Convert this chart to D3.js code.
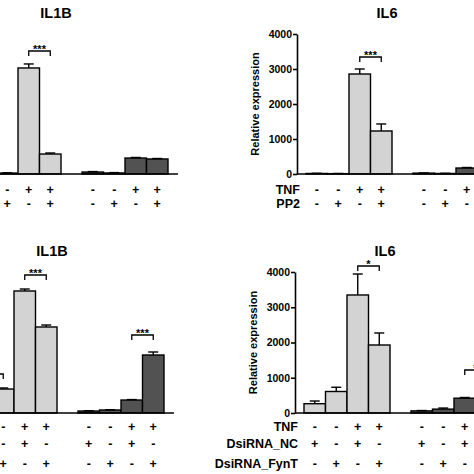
<!DOCTYPE html>
<html>
<head>
<meta charset="utf-8">
<script src="https://cdn.jsdelivr.net/npm/d3@7"></script>
<style>
html,body{margin:0;padding:0;background:#fff;}
svg{display:block;}
text{font-family:"Liberation Sans",Arial,Helvetica,sans-serif;font-weight:bold;fill:#000;}
</style>
</head>
<body>
<svg id="chart" width="474" height="474"></svg>
<script>
// ---------- data ----------
const groups = ["light", "dark"];
const conditions = [0, 1, 2, 3];

const ppRowLabels = ["TNF", "PP2"];
const ppSigns = [["-", "-", "+", "+"], ["-", "+", "-", "+"]];
const siRowLabels = ["TNF", "DsiRNA_NC", "DsiRNA_FynT"];
const siSigns = [["-", "-", "+", "+"], ["+", "-", "+", "-"], ["-", "+", "-", "+"]];

const il1bTicks = [0, 50, 100, 150];
const il6Ticks = [0, 1000, 2000, 3000, 4000];

// IL1B, PP2 experiment (top left)
const il1bPP2Light = [1.0, 1.0, 113.6, 21.4];
const il1bPP2LightErr = [0.3, 0.3, 4.3, 1.1];
const il1bPP2Dark = [2.1, 1.1, 17.1, 16.1];
const il1bPP2DarkErr = [0.5, 0.4, 0.6, 0.5];
const il1bPP2Sig = [{group: "light", a: 2, b: 3, level: 131.8, label: "***"}];

// IL6, PP2 experiment (top right)
const il6PP2Light = [15, 10, 2857, 1229];
const il6PP2LightErr = [5, 5, 143, 200];
const il6PP2Dark = [25, 15, 171, 160];
const il6PP2DarkErr = [5, 5, 15, 15];
const il6PP2Sig = [{group: "light", a: 2, b: 3, level: 3343, label: "***"}];

// IL1B, siRNA experiment (bottom left)
const il1bSiLight = [10, 25.5, 129.8, 91.5];
const il1bSiLightErr = [2, 1.1, 2.1, 2.1];
const il1bSiDark = [2.1, 3.2, 13.8, 61.7];
const il1bSiDarkErr = [0.3, 0.3, 0.5, 3.2];
const il1bSiSig = [
  {group: "light", a: 0, b: 1, level: 41.5, label: "**"},
  {group: "light", a: 2, b: 3, level: 146.8, label: "***"},
  {group: "dark", a: 2, b: 3, level: 83, label: "***"}
];

// IL6, siRNA experiment (bottom right)
const il6SiLight = [264, 610, 3348, 1929];
const il6SiLightErr = [76, 120, 595, 341];
const il6SiDark = [60, 110, 420, 850];
const il6SiDarkErr = [10, 30, 20, 80];
const il6SiSig = [
  {group: "light", a: 2, b: 3, level: 4170, label: "*"},
  {group: "dark", a: 2, b: 3, level: 1220, label: "*"}
];

// ---------- layout ----------
const colors = {light: "#d3d3d3", dark: "#525252"};
const panels = [
  {title: "IL1B", x0: -34, base: 174, top: 34, ymax: 150, ticks: il1bTicks,
   light: il1bPP2Light, lightErr: il1bPP2LightErr, dark: il1bPP2Dark, darkErr: il1bPP2DarkErr,
   sig: il1bPP2Sig, rowLabels: ppRowLabels, signs: ppSigns, rowY: [16, 30]},
  {title: "IL6", x0: 297, base: 174, top: 34, ymax: 4000, ticks: il6Ticks,
   light: il6PP2Light, lightErr: il6PP2LightErr, dark: il6PP2Dark, darkErr: il6PP2DarkErr,
   sig: il6PP2Sig, rowLabels: ppRowLabels, signs: ppSigns, rowY: [16, 30]},
  {title: "IL1B", x0: -38, base: 413, top: 272, ymax: 150, ticks: il1bTicks,
   light: il1bSiLight, lightErr: il1bSiLightErr, dark: il1bSiDark, darkErr: il1bSiDarkErr,
   sig: il1bSiSig, rowLabels: siRowLabels, signs: siSigns, rowY: [14, 31, 51]},
  {title: "IL6", x0: 295, base: 413, top: 272, ymax: 4000, ticks: il6Ticks,
   light: il6SiLight, lightErr: il6SiLightErr, dark: il6SiDark, darkErr: il6SiDarkErr,
   sig: il6SiSig, rowLabels: siRowLabels, signs: siSigns, rowY: [14, 31, 51]}
];

const svg = d3.select("#chart");
svg.append("rect").attr("width", 474).attr("height", 474).attr("fill", "#fff");

panels.forEach(p => {
  const g = svg.append("g");
  const y = d3.scaleLinear().domain([0, p.ymax]).range([p.base, p.top]);
  const x = d3.scaleBand().domain(groups)
    .range([p.x0 + 9, p.x0 + 9 + 193]).paddingInner(21 / 107).paddingOuter(0);
  const xi = d3.scaleBand().domain(conditions).range([0, x.bandwidth()]).padding(0);

  // title
  g.append("text").attr("x", p.x0 + 90).attr("y", p.top - 16)
    .attr("text-anchor", "middle").style("font-size", "14.5px").text(p.title);

  // y axis
  const ax = g.append("g").attr("transform", `translate(${p.x0},0)`)
    .call(d3.axisLeft(y).tickValues(p.ticks).tickFormat(d3.format("d"))
      .tickSize(4).tickSizeOuter(0).tickPadding(1));
  ax.select(".domain").attr("stroke", "#000").attr("stroke-width", 1.6);
  ax.selectAll(".tick line").attr("stroke", "#000").attr("stroke-width", 1.6);
  ax.selectAll(".tick text").style("font-size", "10.5px")
    .style("font-family", '"Liberation Sans",Arial,sans-serif').style("font-weight", "bold").attr("fill", "#000");

  // y label
  g.append("text")
    .attr("transform", `translate(${p.x0 - 38},${(p.base + p.top) / 2}) rotate(-90)`)
    .attr("text-anchor", "middle").style("font-size", "11px").text("Relative expression");

  // bars
  groups.forEach(grp => {
    const vals = p[grp], errs = p[grp + "Err"];
    const gg = g.append("g");
    gg.selectAll("rect").data(conditions).join("rect")
      .attr("x", i => x(grp) + xi(i))
      .attr("y", i => y(vals[i]))
      .attr("width", xi.bandwidth())
      .attr("height", i => y(0) - y(vals[i]))
      .attr("fill", colors[grp]).attr("stroke", "#000").attr("stroke-width", 1.4);
    conditions.forEach(i => {
      const cx = x(grp) + xi(i) + xi.bandwidth() / 2;
      gg.append("line").attr("x1", cx).attr("x2", cx)
        .attr("y1", y(vals[i])).attr("y2", y(vals[i] + errs[i]))
        .attr("stroke", "#000").attr("stroke-width", 1.4);
      gg.append("line").attr("x1", cx - 5).attr("x2", cx + 5)
        .attr("y1", y(vals[i] + errs[i])).attr("y2", y(vals[i] + errs[i]))
        .attr("stroke", "#000").attr("stroke-width", 1.4);
    });
  });

  // x baseline
  g.append("line").attr("x1", p.x0).attr("x2", p.x0 + 212)
    .attr("y1", p.base).attr("y2", p.base).attr("stroke", "#000").attr("stroke-width", 1.6);

  // significance brackets
  p.sig.forEach(s => {
    const xa = x(s.group) + xi(s.a) + xi.bandwidth() / 2;
    const xb = x(s.group) + xi(s.b) + xi.bandwidth() / 2;
    const yy = y(s.level);
    g.append("path").attr("d", `M${xa},${yy + 5}V${yy}H${xb}V${yy + 5}`)
      .attr("fill", "none").attr("stroke", "#000").attr("stroke-width", 1.3);
    g.append("text").attr("x", (xa + xb) / 2).attr("y", yy + 2)
      .attr("text-anchor", "middle").style("font-size", "11px").text(s.label);
  });

  // condition rows
  p.rowLabels.forEach((lab, r) => {
    const yy = p.base + p.rowY[r] + 4;
    g.append("text").attr("x", p.x0 + 3).attr("y", yy)
      .attr("text-anchor", "end").style("font-size", "12.5px").text(lab);
    groups.forEach(grp => {
      conditions.forEach(i => {
        g.append("text").attr("x", x(grp) + xi(i) + xi.bandwidth() / 2).attr("y", yy)
          .attr("text-anchor", "middle").style("font-size", "12.5px").text(p.signs[r][i]);
      });
    });
  });
});

// drop texts that lie entirely outside the visible 474x474 area (cropped in the reference)
svg.selectAll("text").each(function () {
  const b = this.getBoundingClientRect();
  if (b.right <= 0 || b.left >= 474 || b.bottom <= 0 || b.top >= 474) this.remove();
});
</script>
</body>
</html>
